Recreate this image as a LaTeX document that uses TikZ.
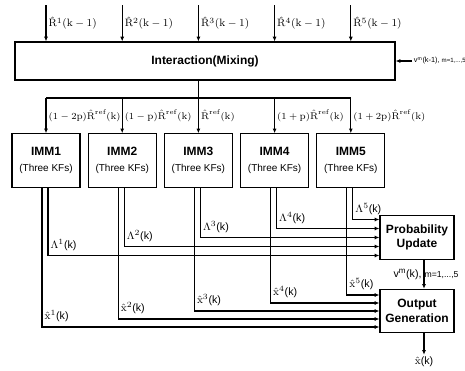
\documentclass[tikz,border=0pt]{standalone}
\usepackage{amsmath,amssymb}
\usepackage{fontspec}
\setsansfont{Liberation Sans}
\usepackage{tikz}
\usetikzlibrary{positioning,arrows.meta}
\newcommand{\threekf}{\\[1pt]{\mdseries\fontsize{7.5}{9}\selectfont(Three KFs)}}

\begin{document}
\begin{tikzpicture}[x=0.75pt,y=-0.75pt,
 box/.style={draw,line width=0.9pt,align=center,font=\sffamily\bfseries\fontsize{9}{11}\selectfont},
 imm/.style={box,minimum width=51pt,minimum height=40pt},
 side/.style={box,minimum width=55.5pt,minimum height=32.5pt},
 arr/.style={-{Latex[length=3.5pt,width=3pt]},line width=0.9pt},
 ln/.style={line width=0.9pt},
 lab/.style={font=\fontsize{8}{9.6}\selectfont,inner sep=1.5pt},
 feed/.style={lab,font=\fontsize{7.3}{9}\selectfont,anchor=west},
 corner/.style={lab,anchor=south west,yshift=2pt}]
\useasboundingbox (0,0) rectangle (465,371);
\node[box,minimum width=285pt,minimum height=28.5pt] (mix) at (205,61) {Interaction(Mixing)};
\node[imm] (imm1) at (46,160.5) {IMM1\threekf};
\node[imm,right=5.25pt of imm1] (imm2) {IMM2\threekf};
\node[imm,right=5.25pt of imm2] (imm3) {IMM3\threekf};
\node[imm,right=5.25pt of imm3] (imm4) {IMM4\threekf};
\node[imm,right=5.25pt of imm4] (imm5) {IMM5\threekf};
\node[side] (prob) at (417,237.5) {Probability\\Update};
\node[side] (outgen) at (417,311) {Output\\Generation};
\node[lab] (xhat) at (424,362) {$\hat{\mathrm{x}}$\textsf{(k)}};
\coordinate (top) at (0,5); \coordinate (bus) at (0,98);
\coordinate (vin) at (412,61); \coordinate (pv) at (424,0);
% inputs and mixing
\draw[arr] (imm1 |- top) -- node[lab,anchor=west] {$\hat{\mathrm{R}}^1(\mathrm{k}-1)$} (imm1 |- mix.north);
\draw[arr] (imm2 |- top) -- node[lab,anchor=west] {$\hat{\mathrm{R}}^2(\mathrm{k}-1)$} (imm2 |- mix.north);
\draw[arr] (imm3 |- top) -- node[lab,anchor=west] {$\hat{\mathrm{R}}^3(\mathrm{k}-1)$} (imm3 |- mix.north);
\draw[arr] (imm4 |- top) -- node[lab,anchor=west] {$\hat{\mathrm{R}}^4(\mathrm{k}-1)$} (imm4 |- mix.north);
\draw[arr] (imm5 |- top) -- node[lab,anchor=west] {$\hat{\mathrm{R}}^5(\mathrm{k}-1)$} (imm5 |- mix.north);
\draw[arr] (vin) node[anchor=west,inner sep=1pt,font=\sffamily\fontsize{5.5}{7}\selectfont]
  {v\textsuperscript{m}(k-1),~{\fontsize{4.6}{6}\selectfont m=1,...,5}} -- (mix.east);
\draw[ln] (imm3 |- mix.south) -- (imm3 |- bus); \draw[ln] (imm1 |- bus) -- (imm5 |- bus);
\draw[arr] (imm1 |- bus) -- node[feed] {$(1-2\mathrm{p})\hat{\mathrm{R}}^{\mathrm{ref}}(\mathrm{k})$} (imm1.north);
\draw[arr] (imm2 |- bus) -- node[feed] {$(1-\mathrm{p})\hat{\mathrm{R}}^{\mathrm{ref}}(\mathrm{k})$} (imm2.north);
\draw[arr] (imm3 |- bus) -- node[feed] {$\hat{\mathrm{R}}^{\mathrm{ref}}(\mathrm{k})$} (imm3.north);
\draw[arr] (imm4 |- bus) -- node[feed] {$(1+\mathrm{p})\hat{\mathrm{R}}^{\mathrm{ref}}(\mathrm{k})$} (imm4.north);
\draw[arr] (imm5 |- bus) -- node[feed] {$(1+2\mathrm{p})\hat{\mathrm{R}}^{\mathrm{ref}}(\mathrm{k})$} (imm5.north);
% likelihoods to probability update
\draw[arr] ([xshift=1.5pt]imm1.south) |- node[corner] {$\Lambda^1$\textsf{(k)}} ([yshift=-13.5pt]prob.west);
\draw[arr] ([xshift=1.5pt]imm2.south) |- node[corner] {$\Lambda^2$\textsf{(k)}} ([yshift=-6.75pt]prob.west);
\draw[arr] ([xshift=1.5pt]imm3.south) |- node[corner] {$\Lambda^3$\textsf{(k)}} (prob.west);
\draw[arr] ([xshift=1.5pt]imm4.south) |- node[corner] {$\Lambda^4$\textsf{(k)}} ([yshift=6.75pt]prob.west);
\draw[arr] ([xshift=1.5pt]imm5.south) |- node[corner] {$\Lambda^5$\textsf{(k)}} ([yshift=13.5pt]prob.west);
% estimates to output generation
\draw[arr] ([xshift=-3pt]imm1.south) |- node[corner] {$\hat{\mathrm{x}}^1$\textsf{(k)}} ([yshift=-12pt]outgen.west);
\draw[arr] ([xshift=-3pt]imm2.south) |- node[corner] {$\hat{\mathrm{x}}^2$\textsf{(k)}} ([yshift=-6pt]outgen.west);
\draw[arr] ([xshift=-3pt]imm3.south) |- node[corner] {$\hat{\mathrm{x}}^3$\textsf{(k)}} (outgen.west);
\draw[arr] ([xshift=-3pt]imm4.south) |- node[corner] {$\hat{\mathrm{x}}^4$\textsf{(k)}} ([yshift=6pt]outgen.west);
\draw[arr] ([xshift=-3pt]imm5.south) |- node[corner] {$\hat{\mathrm{x}}^5$\textsf{(k)}} ([yshift=12pt]outgen.west);
\draw[arr] (pv |- prob.south) -- node[lab,font=\sffamily\fontsize{8}{9.6}\selectfont,xshift=1.5pt]
  {v\textsuperscript{m}(k),~{\fontsize{6.5}{8}\selectfont m=1,...,5}} (pv |- outgen.north);
\draw[arr] (pv |- outgen.south) -- (xhat.north);
\end{tikzpicture}
\end{document}
